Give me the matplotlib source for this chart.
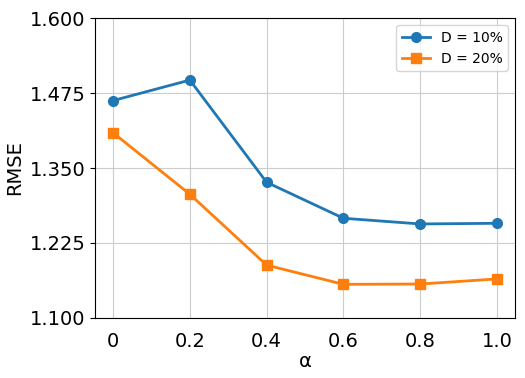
import matplotlib
matplotlib.use("Agg")
import matplotlib.pyplot as plt

alpha = [0, 0.2, 0.4, 0.6, 0.8, 1.0]
alpha_labels = ["0", "0.2", "0.4", "0.6", "0.8", "1.0"]
rmse_d10 = [1.4625, 1.4967, 1.3262, 1.2662, 1.2567, 1.2578]
rmse_d20 = [1.4088, 1.3062, 1.1880, 1.1560, 1.1565, 1.1650]
y_ticks = [1.100, 1.225, 1.350, 1.475, 1.600]

fig, ax = plt.subplots(figsize=(5.25, 3.78), dpi=100)
fig.subplots_adjust(left=0.181, right=0.981, top=0.952, bottom=0.159)

ax.plot(alpha, rmse_d10, color="#1f77b4", marker="o", markersize=7, linewidth=2, label="D = 10%")
ax.plot(alpha, rmse_d20, color="#ff7f0e", marker="s", markersize=7, linewidth=2, label="D = 20%")

ax.set_xlim(-0.047, 1.047)
ax.set_ylim(1.1, 1.6)
ax.set_xticks(alpha)
ax.set_xticklabels(alpha_labels)
ax.set_yticks(y_ticks)
ax.set_yticklabels(["%.3f" % v for v in y_ticks])
ax.tick_params(axis="both", labelsize=14)
ax.tick_params(axis="x", length=0, pad=10)
ax.grid(True, color="#cccccc", linewidth=0.8)
ax.set_axisbelow(True)

ax.set_xlabel("α", fontsize=14, labelpad=1)
ax.set_ylabel("RMSE", fontsize=14)
ax.legend(loc="upper right", fontsize=10)

fig.savefig("out.png", dpi=100)
